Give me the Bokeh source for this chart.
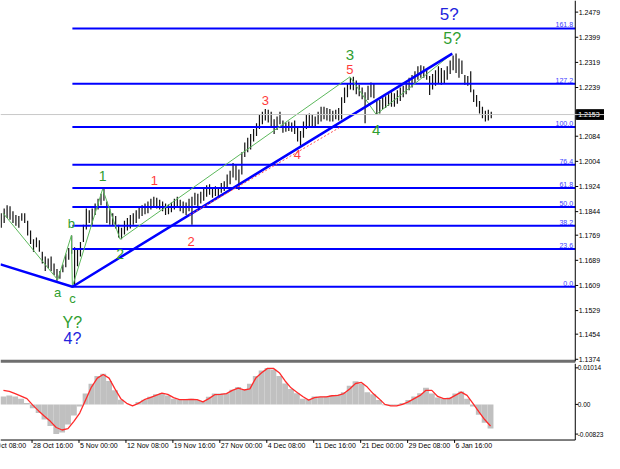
from bokeh.plotting import figure
from bokeh.models import Range1d, Span, ColumnDataSource
from bokeh.layouts import column
from bokeh.embed import file_html
from bokeh.resources import INLINE
from bokeh.core.properties import value

FONT = "Liberation Sans"

# ---------------- price data (EURUSD H4, one entry every 2 bars) ----------------
bar_high = [1.1839, 1.1854, 1.1864, 1.1861, 1.1845, 1.1833, 1.1830, 1.1839, 1.1839, 1.1815,
            1.1784, 1.1756, 1.1762, 1.1753, 1.1716, 1.1701, 1.1695, 1.1701, 1.1679, 1.1661,
            1.1655, 1.1676, 1.1710, 1.1728, 1.1768, 1.1731, 1.1725, 1.1747, 1.1802, 1.1854,
            1.1848, 1.1854, 1.1870, 1.1885, 1.1901, 1.1916, 1.1876, 1.1854, 1.1839, 1.1830,
            1.1802, 1.1793, 1.1815, 1.1824, 1.1833, 1.1839, 1.1848, 1.1861, 1.1864, 1.1870,
            1.1876, 1.1885, 1.1891, 1.1888, 1.1882, 1.1876, 1.1870, 1.1867, 1.1873, 1.1885,
            1.1891, 1.1882, 1.1876, 1.1873, 1.1885, 1.1891, 1.1904, 1.1901, 1.1907, 1.1916,
            1.1928, 1.1931, 1.1922, 1.1925, 1.1922, 1.1935, 1.1941, 1.1962, 1.1974, 1.1999,
            1.1993, 1.1978, 1.2033, 1.2064, 1.2079, 1.2091, 1.2107, 1.2125, 1.2153, 1.2162,
            1.2171, 1.2168, 1.2162, 1.2138, 1.2147, 1.2162, 1.2134, 1.2128, 1.2131, 1.2128,
            1.2134, 1.2116, 1.2101, 1.2131, 1.2153, 1.2156, 1.2153, 1.2147, 1.2162, 1.2178,
            1.2178, 1.2174, 1.2171, 1.2165, 1.2168, 1.2174, 1.2208, 1.2239, 1.2251, 1.2270,
            1.2273, 1.2261, 1.2248, 1.2239, 1.2224, 1.2245, 1.2255, 1.2251, 1.2196, 1.2199,
            1.2208, 1.2211, 1.2218, 1.2224, 1.2221, 1.2230, 1.2239, 1.2245, 1.2255, 1.2270,
            1.2279, 1.2291, 1.2307, 1.2310, 1.2307, 1.2301, 1.2276, 1.2282, 1.2294, 1.2307,
            1.2301, 1.2294, 1.2307, 1.2325, 1.2341, 1.2347, 1.2331, 1.2325, 1.2279, 1.2276,
            1.2291, 1.2233, 1.2215, 1.2196, 1.2178, 1.2165, 1.2168, 1.2162]
bar_low = [1.1793, 1.1808, 1.1824, 1.1818, 1.1808, 1.1799, 1.1793, 1.1815, 1.1808, 1.1768,
           1.1741, 1.1716, 1.1731, 1.1716, 1.1679, 1.1655, 1.1664, 1.1655, 1.1642, 1.1624,
           1.1630, 1.1651, 1.1667, 1.1691, 1.1710, 1.1605, 1.1670, 1.1701, 1.1747, 1.1787,
           1.1808, 1.1802, 1.1833, 1.1851, 1.1864, 1.1879, 1.1808, 1.1802, 1.1799, 1.1790,
           1.1762, 1.1756, 1.1771, 1.1784, 1.1790, 1.1802, 1.1808, 1.1821, 1.1830, 1.1836,
           1.1839, 1.1851, 1.1858, 1.1854, 1.1851, 1.1845, 1.1833, 1.1836, 1.1842, 1.1851,
           1.1858, 1.1845, 1.1839, 1.1833, 1.1845, 1.1802, 1.1864, 1.1858, 1.1870, 1.1879,
           1.1891, 1.1898, 1.1888, 1.1894, 1.1891, 1.1904, 1.1910, 1.1919, 1.1931, 1.1953,
           1.1944, 1.1913, 1.1962, 1.2018, 1.2033, 1.2042, 1.2067, 1.2085, 1.2107, 1.2122,
           1.2134, 1.2128, 1.2116, 1.2091, 1.2104, 1.2122, 1.2095, 1.2098, 1.2101, 1.2098,
           1.2091, 1.2067, 1.2054, 1.2079, 1.2107, 1.2116, 1.2116, 1.2110, 1.2122, 1.2131,
           1.2138, 1.2134, 1.2131, 1.2131, 1.2138, 1.2134, 1.2138, 1.2190, 1.2208, 1.2233,
           1.2230, 1.2218, 1.2211, 1.2202, 1.2125, 1.2199, 1.2208, 1.2205, 1.2153, 1.2156,
           1.2171, 1.2174, 1.2181, 1.2178, 1.2178, 1.2187, 1.2196, 1.2208, 1.2218, 1.2230,
           1.2239, 1.2251, 1.2264, 1.2270, 1.2270, 1.2264, 1.2215, 1.2233, 1.2245, 1.2251,
           1.2248, 1.2251, 1.2264, 1.2282, 1.2294, 1.2285, 1.2270, 1.2282, 1.2248, 1.2245,
           1.2224, 1.2193, 1.2178, 1.2156, 1.2141, 1.2131, 1.2134, 1.2141]
BAR_STEP = 2
last_price = 1.2153

price_ticks = [1.2479, 1.2399, 1.2319, 1.2239, 1.2084, 1.2004, 1.1924, 1.1844,
               1.1769, 1.1689, 1.1609, 1.1529, 1.1454, 1.1374]

# Fibonacci grid
fib_ratios = [0.0, 23.6, 38.2, 50.0, 61.8, 76.4, 100.0, 127.2, 161.8]
fib_low = 1.1605
fib_high = 1.2113
fib_start_bar = 48.5

# wave pivots (bar index, price)
wave_bar = [1.3, 38.5, 47.8, 48.5, 69.1, 81.0, 237.7, 255.6, 307.4]
wave_price = [1.1839, 1.1627, 1.1768, 1.1605, 1.1916, 1.1756, 1.2273, 1.2153, 1.2347]
trend_bar = [-0.5, 48.5, 307.4]
trend_price = [1.1676, 1.1605, 1.2347]
sub_bar = [128.2, 231.1]
sub_price = [1.1833, 1.2113]

# wave labels
lbl_text = ["a", "c", "b", "Y?", "4?", "1", "2", "1", "2", "3", "4", "5", "3", "4", "5?", "5?"]
lbl_bar = [38.5, 48.5, 47.8, 48.5, 48.5, 69.1, 81.0, 104.3, 129.5, 180.0, 201.9, 237.7, 237.7, 255.6, 307.4, 305.4]
lbl_price = [1.1627, 1.1605, 1.1768, 1.1605, 1.1605, 1.1916, 1.1756, 1.1891, 1.1802, 1.2171, 1.2054,
             1.2273, 1.2273, 1.2153, 1.2347, 1.2347]
lbl_dy = [13, 12, -12, 36, 52, -13, 15, -16, 17, -8, 9, -7, -22, 15, -15, -39]
GREEN, RED, BLUE = "#2f9e2f", "#ff3b3b", "#2323dd"
lbl_color = [GREEN, GREEN, GREEN, GREEN, BLUE, GREEN, GREEN, RED, RED, RED, RED, RED, GREEN, GREEN, GREEN, BLUE]
lbl_size = ["13px", "13px", "13px", "16px", "16px", "14px", "14px", "13px", "13px", "13px", "13px",
            "13px", "15px", "15px", "16px", "17px"]

# ---------------- oscillator (MACD histogram + signal), one entry every 4 bars ----------------
macd_hist = [0.0022, 0.0025, 0.0022, 0.0016, 0.0004, -0.0011, -0.0024, -0.0042, -0.0060, -0.0082,
             -0.0078, -0.0056, -0.0031, -0.0006, 0.0030, 0.0057, 0.0079, 0.0085, 0.0065, 0.0039,
             0.0013, 0.0000, 0.0000, 0.0007, 0.0013, 0.0021, 0.0028, 0.0031, 0.0025, 0.0016,
             0.0013, 0.0014, 0.0016, 0.0012, 0.0009, 0.0021, 0.0030, 0.0030, 0.0031, 0.0041,
             0.0048, 0.0040, 0.0057, 0.0079, 0.0094, 0.0101, 0.0097, 0.0079, 0.0058, 0.0043,
             0.0031, 0.0016, 0.0013, 0.0022, 0.0021, 0.0022, 0.0025, 0.0027, 0.0034, 0.0052,
             0.0064, 0.0057, 0.0034, 0.0028, 0.0012, -0.0002, -0.0003, -0.0002, 0.0004, 0.0012,
             0.0022, 0.0031, 0.0046, 0.0030, 0.0019, 0.0016, 0.0019, 0.0030, 0.0036, 0.0016,
             -0.0006, -0.0029, -0.0051, -0.0067]
macd_signal = [0.0039, 0.0036, 0.0030, 0.0023, 0.0016, -0.0002, -0.0018, -0.0033, -0.0047, -0.0064,
               -0.0071, -0.0067, -0.0047, -0.0024, 0.0012, 0.0048, 0.0073, 0.0083, 0.0073, 0.0043,
               0.0016, 0.0003, -0.0004, 0.0003, 0.0013, 0.0019, 0.0025, 0.0031, 0.0028, 0.0019,
               0.0013, 0.0013, 0.0014, 0.0013, 0.0007, 0.0016, 0.0027, 0.0028, 0.0030, 0.0039,
               0.0045, 0.0040, 0.0043, 0.0073, 0.0088, 0.0100, 0.0100, 0.0088, 0.0065, 0.0046,
               0.0034, 0.0022, 0.0012, 0.0019, 0.0021, 0.0021, 0.0024, 0.0025, 0.0030, 0.0043,
               0.0058, 0.0061, 0.0048, 0.0030, 0.0016, 0.0000, -0.0004, -0.0004, 0.0000, 0.0007,
               0.0016, 0.0025, 0.0039, 0.0039, 0.0022, 0.0016, 0.0016, 0.0025, 0.0034, 0.0025,
               0.0003, -0.0020, -0.0042, -0.0060]
OSC_STEP = 4
osc_ticks = [0.01014, 0.0, -0.00823]
osc_tick_labels = ["0.01014", "0.00", "-0.00823"]

# time axis
time_ticks = [-11, 21, 53, 85, 117, 149, 181, 213, 245, 277, 309]
time_labels = ["21 Oct 08:00", "28 Oct 16:00", "5 Nov 00:00", "12 Nov 08:00", "19 Nov 16:00",
               "27 Nov 00:00", "4 Dec 08:00", "11 Dec 16:00", "21 Dec 00:00", "29 Dec 08:00",
               "6 Jan 16:00"]

# ---------------- geometry (terminal-style layout) ----------------
PXI = 1 / 1.506        # one screen pixel in bar-index units
PXP = 1 / 3250         # one screen pixel in price units (main window)
PXO = 0.000267         # one screen pixel in oscillator units
X0 = -0.5
XR = X0 + 620 * PXI    # right edge of the canvas
X1 = X0 + 590 * PXI    # price scale line
FULL_W = 604

bar_x = [i * BAR_STEP for i in range(len(bar_high))]
osc_x = [k * OSC_STEP + 1.5 for k in range(len(macd_hist))]

P_TOP = 1.2516
P_BOT = P_TOP - 375.5 * PXP
P_SEP = P_TOP - 373.3 * PXP

p = figure(frame_width=FULL_W, frame_height=363, x_range=Range1d(X0, XR),
           y_range=Range1d(P_BOT, P_TOP), output_backend="svg", toolbar_location=None,
           x_axis_location=None, y_axis_location=None,
           min_border_left=0, min_border_right=0, min_border_top=0, min_border_bottom=0)
p.grid.visible = False
p.outline_line_color = None

p.add_layout(Span(location=last_price, dimension="width", line_color="#c8c8c8", line_width=1))

# price bars
p.segment(x0=bar_x, x1=bar_x, y0=bar_low, y1=bar_high, line_color="#111111", line_width=1.2)

# fibonacci levels
fib_levels = [fib_low + r / 100.0 * (fib_high - fib_low) for r in fib_ratios]
n_fib = len(fib_levels)
p.segment(x0=[fib_start_bar] * n_fib, x1=[X1] * n_fib, y0=fib_levels, y1=fib_levels,
          line_color="#0000ff", line_width=2)
p.text(x=[X1 - 1.5] * n_fib, y=fib_levels, text=[f"{r:.1f}" for r in fib_ratios],
       text_align="right", text_baseline="bottom", text_font=value(FONT),
       text_font_size="7px", text_color="#3c3cff", y_offset=-1)

# wave lines
p.line(wave_bar, wave_price, line_color="#5cb85c", line_width=1)
p.line(trend_bar, trend_price, line_color="#0000ff", line_width=2.5)
p.line(sub_bar, sub_price, line_color="#ff5050", line_width=1, line_dash="2 2")

lbl_src = ColumnDataSource(dict(x=lbl_bar, y=lbl_price, text=lbl_text, dy=lbl_dy,
                                color=lbl_color, size=lbl_size))
p.text(x="x", y="y", text="text", y_offset="dy", text_color="color", text_font_size="size",
       text_font=value(FONT), text_align="center", text_baseline="middle", source=lbl_src)

# window separator
p.segment(x0=[X0], x1=[X1], y0=[P_SEP], y1=[P_SEP], line_color="#6e6e6e", line_width=3)

# price scale (right)
p.segment(x0=[X1], x1=[X1], y0=[P_SEP], y1=[P_TOP], line_color="black", line_width=1)
n_pt = len(price_ticks)
p.segment(x0=[X1] * n_pt, x1=[X1 + 3 * PXI] * n_pt, y0=price_ticks, y1=price_ticks,
          line_color="black", line_width=1)
p.text(x=[X1 + 3.5 * PXI] * n_pt, y=price_ticks, text=[f"{t:.4f}" for t in price_ticks],
       text_align="left", text_baseline="middle", text_font=value(FONT),
       text_font_size="7px", text_color="black")
# current price marker
p.quad(left=[X1 + 1 * PXI], right=[XR], bottom=[last_price - 5 * PXP], top=[last_price + 5 * PXP],
       fill_color="black", line_color="black")
p.text(x=[X1 + 3 * PXI], y=[last_price], text=[f"{last_price:.4f}"], text_align="left",
       text_baseline="middle", text_font=value(FONT), text_font_size="7px", text_color="white")

# ---------------- oscillator window ----------------
O_TOP = (418 - 375.5) * PXO
O_BOT = -(469 - 418) * PXO
O_AXIS = -(455 - 418) * PXO

o = figure(frame_width=FULL_W, frame_height=90, x_range=p.x_range,
           y_range=Range1d(O_BOT, O_TOP), output_backend="svg", toolbar_location=None,
           x_axis_location=None, y_axis_location=None,
           min_border_left=0, min_border_right=0, min_border_top=0, min_border_bottom=0)
o.grid.visible = False
o.outline_line_color = None

o.vbar(x=osc_x, width=OSC_STEP, top=macd_hist, bottom=0, fill_color="#c0c0c0", line_color=None)
o.line(osc_x, macd_signal, line_color="#ff2a2a", line_width=1.3)

# oscillator scale (right)
o.segment(x0=[X1], x1=[X1], y0=[O_AXIS], y1=[O_TOP], line_color="black", line_width=1)
n_ot = len(osc_ticks)
o.segment(x0=[X1] * n_ot, x1=[X1 + 3 * PXI] * n_ot, y0=osc_ticks, y1=osc_ticks,
          line_color="black", line_width=1)
o.text(x=[X1 + 2.5 * PXI] * n_ot, y=osc_ticks, text=osc_tick_labels, text_align="left",
       text_baseline="middle", text_font=value(FONT), text_font_size="6.5px", text_color="black")

# time scale (bottom)
o.segment(x0=[X0], x1=[X1], y0=[O_AXIS], y1=[O_AXIS], line_color="black", line_width=1)
n_tt = len(time_ticks)
o.segment(x0=time_ticks, x1=time_ticks, y0=[O_AXIS] * n_tt, y1=[O_AXIS - 3 * PXO] * n_tt,
          line_color="black", line_width=1)
o.text(x=[t + 1 * PXI for t in time_ticks], y=[O_AXIS - 2 * PXO] * n_tt, text=time_labels,
       text_align="left", text_baseline="top", text_font=value(FONT),
       text_font_size="7px", text_color="black")

layout = column(p, o, spacing=0)
open("out.html", "w").write(file_html(layout, INLINE))
